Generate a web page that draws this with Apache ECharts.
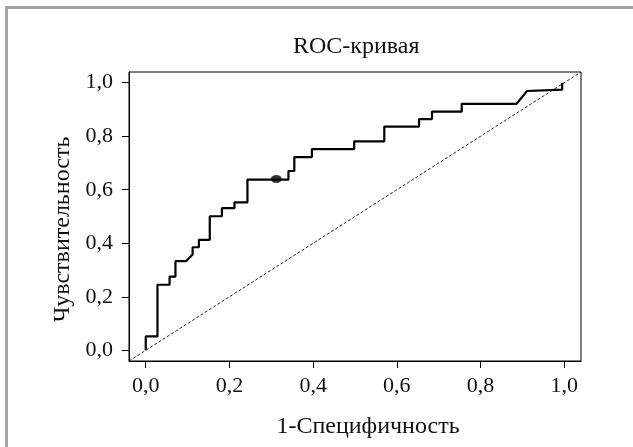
<!DOCTYPE html>
<html>
<head>
<meta charset="utf-8">
<script src="https://cdn.jsdelivr.net/npm/echarts@6.0.0/dist/echarts.min.js"></script>
<style>
    html, body { margin: 0; padding: 0; background: #fff; }
    #frame {
        position: absolute; left: 5px; top: 6px; width: 640px; height: 460px;
        border-left: 3px solid #a3a3a3; border-top: 3px solid #a3a3a3;
    }
    #chart { position: absolute; left: 0; top: 0; width: 633px; height: 447px; }
</style>
</head>
<body>
<div id="frame"></div>
<div id="chart"></div>
<script>
// ROC curve vertices (1 - specificity, sensitivity)
const fpr = [0, 0, 0.028, 0.028, 0.057, 0.057, 0.071, 0.071, 0.096, 0.112, 0.112, 0.127, 0.127,
    0.153, 0.153, 0.182, 0.182, 0.212, 0.212, 0.243, 0.243, 0.341, 0.341, 0.355, 0.355,
    0.397, 0.397, 0.498, 0.498, 0.570, 0.570, 0.653, 0.653, 0.684, 0.684, 0.755, 0.755,
    0.886, 0.911, 0.995, 0.995]
const tpr = [0, 0.052, 0.052, 0.245, 0.245, 0.275, 0.275, 0.333, 0.333, 0.358, 0.385, 0.385, 0.413,
    0.413, 0.501, 0.501, 0.531, 0.531, 0.553, 0.553, 0.638, 0.638, 0.670, 0.670, 0.722,
    0.722, 0.752, 0.752, 0.781, 0.781, 0.836, 0.836, 0.864, 0.864, 0.892, 0.892, 0.921,
    0.921, 0.969, 0.974, 1.0]

// optimal cut-off point
const cutoff = [0.312, 0.640]

// reference diagonal
const diagX = [-0.04, 1.04]
const diagY = [-0.04, 1.04]

const tickValues = [0, 0.2, 0.4, 0.6, 0.8, 1.0]

const titleText = 'ROC-кривая'
const xName = '1-Специфичность'
const yName = 'Чувствительность'

const font = '"Liberation Serif", "DejaVu Serif", serif'

function fmt(v) {
    return v.toFixed(1).replace('.', ',')
}

function valueAxis(name) {
    return {
        type: 'value',
        min: -0.04,
        max: 1.04,
        name: name,
        nameLocation: 'middle',
        nameTextStyle: { fontFamily: font, fontSize: 24, color: '#111' },
        axisLine: { show: true, onZero: false, lineStyle: { color: '#000', width: 1 } },
        axisTick: { show: true, customValues: tickValues, length: 7, lineStyle: { color: '#000' } },
        axisLabel: {
            customValues: tickValues,
            fontFamily: font,
            fontSize: 22,
            color: '#111',
            formatter: fmt
        },
        splitLine: { show: false }
    }
}

const chart = echarts.init(document.getElementById('chart'))

const xAxis = valueAxis(xName)
xAxis.nameGap = 54
xAxis.nameTextStyle.padding = [0, 0, 0, 26]
xAxis.axisLabel.margin = 14

const yAxis = valueAxis(yName)
yAxis.nameGap = 52
yAxis.nameTextStyle.padding = [0, 26, 0, 0]
yAxis.axisLabel.margin = 16

chart.setOption({
    animation: false,
    title: {
        text: titleText,
        left: 288,
        top: 30,
        textStyle: { fontFamily: font, fontSize: 24, fontWeight: 'normal', color: '#111' }
    },
    grid: {
        left: 129,
        right: 52,
        top: 72,
        bottom: 86,
        show: true,
        borderColor: '#000',
        borderWidth: 1
    },
    xAxis: xAxis,
    yAxis: yAxis,
    series: [
        {
            type: 'line',
            data: diagX.map((x, i) => [x, diagY[i]]),
            symbol: 'none',
            silent: true,
            lineStyle: { color: '#222', width: 1, type: [3, 2] }
        },
        {
            type: 'line',
            data: fpr.map((x, i) => [x, tpr[i]]),
            symbol: 'none',
            lineStyle: { color: '#000', width: 2.2 }
        },
        {
            type: 'scatter',
            data: [cutoff],
            symbol: 'circle',
            symbolSize: [11, 8],
            itemStyle: { color: '#000' }
        }
    ]
})
</script>
</body>
</html>
